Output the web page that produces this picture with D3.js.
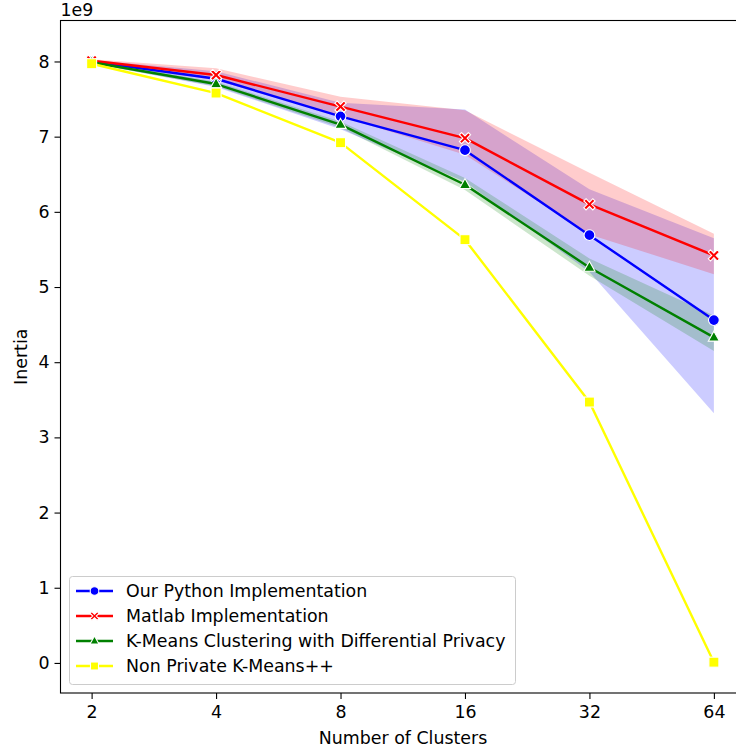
<!DOCTYPE html>
<html><head><meta charset="utf-8">
<script src="https://cdn.jsdelivr.net/npm/d3@7"></script>
<style>body{margin:0;background:#fff}svg{display:block}text{font-family:"DejaVu Sans",sans-serif;fill:#000}</style>
</head><body><svg id="c" width="736" height="749"></svg>
<script>
const clusters = [2, 4, 8, 16, 32, 64];
const tickLabels = ["2", "4", "8", "16", "32", "64"];
const yTicks = [0, 1, 2, 3, 4, 5, 6, 7, 8];
const seriesNames = ["Our Python Implementation", "Matlab Implementation", "K-Means Clustering with Differential Privacy", "Non Private K-Means++"];
const seriesColors = ["#0000ff", "#ff0000", "#008000", "#ffff00"];
const seriesMarkers = ["circle", "x", "triangle", "square"];
const pythonMean = [8.00, 7.77, 7.27, 6.82, 5.69, 4.56];
const pythonLow  = [7.98, 7.66, 7.10, 6.40, 5.20, 3.32];
const pythonHigh = [8.02, 7.87, 7.45, 7.36, 6.30, 5.65];
const matlabMean = [8.01, 7.82, 7.40, 6.98, 6.10, 5.42];
const matlabLow  = [7.99, 7.75, 7.27, 6.76, 5.70, 5.17];
const matlabHigh = [8.03, 7.91, 7.53, 7.35, 6.52, 5.71];
const dpMean = [7.99, 7.70, 7.16, 6.36, 5.26, 4.33];
const dpLow  = [7.97, 7.67, 7.12, 6.29, 5.15, 4.15];
const dpHigh = [8.01, 7.73, 7.20, 6.45, 5.38, 4.62];
const kppMean = [7.97, 7.58, 6.92, 5.63, 3.47, 0.01];
const kppLow  = [7.96, 7.57, 6.91, 5.62, 3.46, 0.00];
const kppHigh = [7.98, 7.59, 6.93, 5.64, 3.48, 0.02];

const means = [pythonMean, matlabMean, dpMean, kppMean];
const lows = [pythonLow, matlabLow, dpLow, kppLow];
const highs = [pythonHigh, matlabHigh, dpHigh, kppHigh];

const FS = 17.4;
const svg = d3.select("#c");
const L = 60.5, R = 745, T = 20.5, B = 693;
const x = d3.scaleLog().base(2).domain([Math.pow(2, 0.75), Math.pow(2, 6.25)]).range([L, R]);
const y = d3.scaleLinear().domain([-0.4, 8.545]).range([B, T]);

const clip = svg.append("defs").append("clipPath").attr("id", "pc");
clip.append("rect").attr("x", L).attr("y", T).attr("width", R - L).attr("height", B - T);
const plot = svg.append("g").attr("clip-path", "url(#pc)");

// bands
means.forEach((m, i) => {
  const area = d3.area().x((d, j) => x(clusters[j])).y0((d, j) => y(lows[i][j])).y1((d, j) => y(highs[i][j]));
  plot.append("path").datum(m).attr("d", area).attr("fill", seriesColors[i]).attr("fill-opacity", 0.2).attr("stroke", "none");
});

function drawMarker(g, type, cx, cy, color, s) {
  s = s || 1;
  if (type === "circle") {
    g.append("circle").attr("cx", cx).attr("cy", cy).attr("r", 5.4 * s).attr("fill", color).attr("stroke", "#fff").attr("stroke-width", 1.1);
  } else if (type === "square") {
    const h = 5 * s;
    g.append("rect").attr("x", cx - h).attr("y", cy - h).attr("width", 2 * h).attr("height", 2 * h).attr("fill", color).attr("stroke", "#fff").attr("stroke-width", 1.1);
  } else if (type === "triangle") {
    const r = 6.2 * s;
    g.append("path").attr("d", `M${cx},${cy - r}L${cx + r * 0.9},${cy + r * 0.6}L${cx - r * 0.9},${cy + r * 0.6}Z`).attr("fill", color).attr("stroke", "#fff").attr("stroke-width", 1.1);
  } else {
    const a = 5.6 * s, w = 2.2 * s;
    const p = [[-a + w, -a], [0, -w], [a - w, -a], [a, -a + w], [w, 0], [a, a - w], [a - w, a], [0, w], [-a + w, a], [-a, a - w], [-w, 0], [-a, -a + w]];
    g.append("path").attr("d", "M" + p.map(q => (cx + q[0]) + "," + (cy + q[1])).join("L") + "Z").attr("fill", color).attr("stroke", "#fff").attr("stroke-width", 1.1);
  }
}

// lines + markers
means.forEach((m, i) => {
  const line = d3.line().x((d, j) => x(clusters[j])).y(d => y(d));
  plot.append("path").datum(m).attr("d", line).attr("fill", "none").attr("stroke", seriesColors[i]).attr("stroke-width", 2.4).attr("stroke-linejoin", "round");
  m.forEach((v, j) => drawMarker(plot, seriesMarkers[i], x(clusters[j]), y(v), seriesColors[i]));
});

// axes
const xAxis = d3.axisBottom(x).tickValues(clusters).tickFormat((d, i) => tickLabels[i]).tickSizeOuter(0).tickSize(6).tickPadding(5);
const gx = svg.append("g").attr("transform", `translate(0,${B})`).call(xAxis);
const yAxis = d3.axisLeft(y).tickValues(yTicks).tickFormat(d3.format("d")).tickSizeOuter(0).tickSize(6).tickPadding(5);
const gy = svg.append("g").attr("transform", `translate(${L},0)`).call(yAxis);
[gx, gy].forEach(g => {
  g.selectAll("text").attr("font-size", FS).style("font-family", "DejaVu Sans");
  g.selectAll("line").attr("stroke", "#000").attr("stroke-width", 1.1);
  g.select(".domain").remove();
});
gx.selectAll("text").attr("dy", "0.8em");

// spines
svg.append("rect").attr("x", L).attr("y", T).attr("width", R - L).attr("height", B - T).attr("fill", "none").attr("stroke", "#000").attr("stroke-width", 1.1);

svg.append("text").attr("x", L).attr("y", 16).attr("font-size", FS).text("1e9");
svg.append("text").attr("x", 403).attr("y", 744).attr("text-anchor", "middle").attr("font-size", FS).text("Number of Clusters");
svg.append("text").attr("transform", `translate(27,${(T + B) / 2}) rotate(-90)`).attr("text-anchor", "middle").attr("font-size", FS).text("Inertia");

// legend
const lg = svg.append("g");
lg.append("rect").attr("x", 69.5).attr("y", 576.5).attr("width", 446).attr("height", 108).attr("rx", 3).attr("fill", "#fff").attr("fill-opacity", 0.8).attr("stroke", "#cccccc").attr("stroke-width", 1);
seriesNames.forEach((n, i) => {
  const yy = 591 + i * 25;
  lg.append("line").attr("x1", 76).attr("x2", 113).attr("y1", yy).attr("y2", yy).attr("stroke", seriesColors[i]).attr("stroke-width", 2.4);
  drawMarker(lg, seriesMarkers[i], 94.5, yy, seriesColors[i], 0.8);
  lg.append("text").attr("x", 126).attr("y", yy + 6).attr("font-size", FS).text(n);
});
</script></body></html>
